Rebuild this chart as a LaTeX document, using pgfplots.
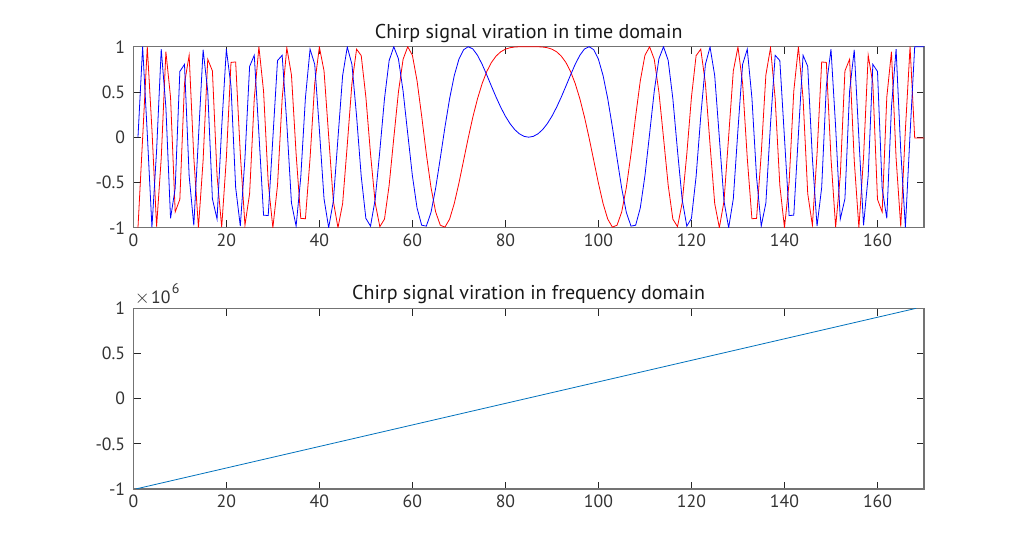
\documentclass[border=0pt]{standalone}
\usepackage{pgfplots}
\pgfplotsset{compat=1.18}
\usepackage{pgfplotstable}
\usepackage{fontspec}
\setmainfont{PT Sans}
\definecolor{mblue}{rgb}{0,0.447,0.741}
\definecolor{axgray}{rgb}{0.45,0.45,0.45}
\definecolor{txtgray}{rgb}{0.2,0.2,0.2}
\pgfplotstableread{
x r b
1 -1 0
2 -0.0094 1
3 0.9993 0.0374
4 0.0840 -0.9965
5 -0.9888 -0.1490
6 -0.2316 0.9728
7 0.9439 0.3303
8 0.4423 -0.8969
9 -0.8262 -0.5633
10 -0.6871 0.7266
11 0.5936 0.8048
12 0.9050 -0.4254
13 -0.2225 -0.9749
14 -1 -0.0094
15 -0.2588 0.9659
16 0.8613 0.5081
17 0.7331 -0.6802
18 -0.4254 -0.9050
19 -0.9937 0.1120
20 -0.2316 0.9728
21 0.8262 0.5633
22 0.8315 -0.5556
23 -0.1859 -0.9826
24 -0.9728 -0.2316
25 -0.6235 0.7818
26 0.4254 0.9050
27 0.9993 0.0374
28 0.5081 -0.8613
29 -0.5 -0.8660
30 -1 -0.0094
31 -0.5321 0.8467
32 0.4254 0.9050
33 0.9888 0.1490
34 0.6871 -0.7266
35 -0.1859 -0.9826
36 -0.8969 -0.4423
37 -0.9010 0.4339
38 -0.2316 0.9728
39 0.5936 0.8048
40 0.9965 0.0840
41 0.7331 -0.6802
42 0.0094 -1
43 -0.7071 -0.7071
44 -1 -0.0094
45 -0.7331 0.6802
46 -0.0840 0.9965
47 0.5936 0.8048
48 0.9728 0.2316
49 0.9010 -0.4339
50 0.4423 -0.8969
51 -0.1859 -0.9826
52 -0.7266 -0.6871
53 -0.9888 -0.1490
54 -0.9050 0.4254
55 -0.5321 0.8467
56 -0.0094 1
57 0.5 0.8660
58 0.8613 0.5081
59 0.9993 0.0374
60 0.9050 -0.4254
61 0.6235 -0.7818
62 0.2316 -0.9728
63 -0.1859 -0.9826
64 -0.5556 -0.8315
65 -0.8262 -0.5633
66 -0.9728 -0.2316
67 -0.9937 0.1120
68 -0.9050 0.4254
69 -0.7331 0.6802
70 -0.5081 0.8613
71 -0.2588 0.9659
72 -0.0094 1
73 0.2225 0.9749
74 0.4254 0.9050
75 0.5936 0.8048
76 0.7266 0.6871
77 0.8262 0.5633
78 0.8969 0.4423
79 0.9439 0.3303
80 0.9728 0.2316
81 0.9888 0.1490
82 0.9965 0.0840
83 0.9993 0.0374
84 1 0.0094
85 1 0
86 1 0.0094
87 0.9993 0.0374
88 0.9965 0.0840
89 0.9888 0.1490
90 0.9728 0.2316
91 0.9439 0.3303
92 0.8969 0.4423
93 0.8262 0.5633
94 0.7266 0.6871
95 0.5936 0.8048
96 0.4254 0.9050
97 0.2225 0.9749
98 -0.0094 1
99 -0.2588 0.9659
100 -0.5081 0.8613
101 -0.7331 0.6802
102 -0.9050 0.4254
103 -0.9937 0.1120
104 -0.9728 -0.2316
105 -0.8262 -0.5633
106 -0.5556 -0.8315
107 -0.1859 -0.9826
108 0.2316 -0.9728
109 0.6235 -0.7818
110 0.9050 -0.4254
111 0.9993 0.0374
112 0.8613 0.5081
113 0.5 0.8660
114 -0.0094 1
115 -0.5321 0.8467
116 -0.9050 0.4254
117 -0.9888 -0.1490
118 -0.7266 -0.6871
119 -0.1859 -0.9826
120 0.4423 -0.8969
121 0.9010 -0.4339
122 0.9728 0.2316
123 0.5936 0.8048
124 -0.0840 0.9965
125 -0.7331 0.6802
126 -1 -0.0094
127 -0.7071 -0.7071
128 0.0094 -1
129 0.7331 -0.6802
130 0.9965 0.0840
131 0.5936 0.8048
132 -0.2316 0.9728
133 -0.9010 0.4339
134 -0.8969 -0.4423
135 -0.1859 -0.9826
136 0.6871 -0.7266
137 0.9888 0.1490
138 0.4254 0.9050
139 -0.5321 0.8467
140 -1 -0.0094
141 -0.5 -0.8660
142 0.5081 -0.8613
143 0.9993 0.0374
144 0.4254 0.9050
145 -0.6235 0.7818
146 -0.9728 -0.2316
147 -0.1859 -0.9826
148 0.8315 -0.5556
149 0.8262 0.5633
150 -0.2316 0.9728
151 -0.9937 0.1120
152 -0.4254 -0.9050
153 0.7331 -0.6802
154 0.8613 0.5081
155 -0.2588 0.9659
156 -1 -0.0094
157 -0.2225 -0.9749
158 0.9050 -0.4254
159 0.5936 0.8048
160 -0.6871 0.7266
161 -0.8262 -0.5633
162 0.4423 -0.8969
163 0.9439 0.3303
164 -0.2316 0.9728
165 -0.9888 -0.1490
166 0.0840 -0.9965
167 0.9993 0.0374
168 -0.0094 1
170 -0.0094 1
}\chirp
\pgfplotsset{
  matstyle/.style={
    scale only axis,
    width=593pt,
    xmin=0, xmax=170,
    xtick={0,20,40,60,80,100,120,140,160},
    xticklabels={0,20,40,60,80,100,120,140,160},
    axis line style={draw=axgray, line width=0.9pt},
    tick align=inside,
    major tick length=5.5pt,
    every tick/.style={draw=black!85, line width=0.6pt},
    tick label style={font=\fontsize{13.3}{15}\selectfont, text=txtgray},
    yticklabel style={inner sep=0pt, xshift=-6pt, anchor=east},
    xticklabel style={inner sep=0pt, yshift=-4.5pt, anchor=north},
    title style={font=\fontsize{15}{17}\selectfont, text=black!90, at={(0.5,1)}, anchor=base, yshift=0.3pt, inner sep=0pt},
    /pgf/number format/assume math mode=true,
    scaled y ticks=false,
    clip mode=individual,
  }
}
\begin{document}
\begin{tikzpicture}
\fill[white] (0,0) rectangle (765.75pt,412.5pt);
\begin{axis}[matstyle,
  at={(100pt,241.725pt)}, anchor=south west,
  height=135.75pt,
  ymin=-1, ymax=1,
  ytick={-1,-0.5,0,0.5,1},
  yticklabels={-1,-0.5,0,0.5,1},
  title={Chirp signal viration in time domain}]
\addplot[red, line width=0.6pt] table[x=x, y=r] {\chirp};
\addplot[blue, line width=0.6pt] table[x=x, y=b] {\chirp};
\end{axis}
\begin{axis}[matstyle,
  at={(100pt,45.75pt)}, anchor=south west,
  height=135.5pt,
  ymin=-1000000, ymax=1000000,
  ytick={-1000000,-500000,0,500000,1000000},
  yticklabels={-1,-0.5,0,0.5,1},
  title={Chirp signal viration in frequency domain}]
\addplot[mblue, line width=0.6pt] coordinates {(0.5,-1000000) (168.3,1000000)};
\node[anchor=base west, inner sep=0pt, text=txtgray, font=\fontsize{13.3}{15}\selectfont] at (rel axis cs:0,1) [xshift=1pt, yshift=3.75pt] {{\fontsize{15}{15}\selectfont$\times$}\kern1pt10\kern1pt\raisebox{7pt}{\fontsize{10.5}{11}\selectfont 6}};
\end{axis}
\end{tikzpicture}
\end{document}
